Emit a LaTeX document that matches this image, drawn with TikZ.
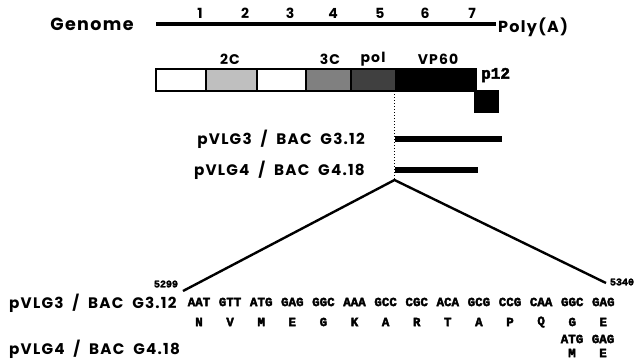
\documentclass[tikz,border=0pt]{standalone}
\usepackage{fontspec}
\setmainfont{Poppins}
\newfontfamily\codfont{Liberation Mono}[BoldFeatures={FakeBold=3}]
\newfontfamily\spfont{Poppins}[LetterSpace=8]
\begin{document}
\begin{tikzpicture}[x=1pt,y=-1pt,
  lab/.style={font=\spfont\fontsize{15.2}{17}\selectfont\bfseries, inner sep=0pt},
  num/.style={font=\spfont\fontsize{14}{16}\selectfont\bfseries, inner sep=0pt},
  cod/.style={font=\codfont\fontsize{12.5}{14}\selectfont\bfseries, inner sep=0pt},
  seg/.style={draw=black, line width=1.4pt},
  bar/.style={line width=6pt},
  tri/.style={line width=2.4pt}]
\useasboundingbox (0,0) rectangle (637,360);
% genome
\node[font=\spfont\fontsize{17.5}{19}\selectfont\bfseries, inner sep=0pt] (gen) at (92,24) {Genome};
\coordinate (gs) at (156,24);
\coordinate (ge) at (496,24);
\draw[line width=4pt] (gs) -- (ge);
\foreach \n/\x in {1/200,2/245,3/290,4/333,5/380,6/425,7/472}
  \node[num] (n\n) at (\x,13) {\n};
\node[num, font=\spfont\fontsize{16}{18}\selectfont\bfseries, anchor=west] (poly) at (498,27) {Poly(A)};
% polyprotein
\draw[seg, fill=white] (156,69) rectangle (206,91);
\draw[seg, fill=black!25] (206,69) rectangle (257,91);
\draw[seg, fill=white] (257,69) rectangle (306,91);
\draw[seg, fill=black!50] (306,69) rectangle (351,91);
\draw[seg, fill=black!75] (351,69) rectangle (396,91);
\draw[seg, fill=black] (396,69) rectangle (476,91);
\fill[black] (474,90) rectangle (499,113);
\node[num] (c2) at (230,59) {2C};
\node[num] (c3) at (330,59) {3C};
\node[num] (pol) at (373,59) {pol};
\node[num] (vp) at (438,59) {VP60};
\node[font=\codfont\fontsize{16}{18}\selectfont\bfseries, inner sep=0pt, anchor=west] (p12) at (481,75) {p12};
% dotted line and clones
\coordinate (d0) at (394.5,91);
\coordinate (apex) at (394.5,180);
\draw[dotted, line width=1pt] (d0) -- (apex);
\coordinate (b1s) at (395,139); \coordinate (b1e) at (502,139);
\coordinate (b2s) at (395,170); \coordinate (b2e) at (478,170);
\draw[bar] (b1s) -- (b1e);
\draw[bar] (b2s) -- (b2e);
\node[lab, anchor=east] (l1) at (365,139) {pVLG3 \ / \ BAC \ G3.12};
\node[lab, anchor=east] (l2) at (365,170) {pVLG4 \ / \ BAC \ G4.18};
% triangle
\coordinate (tl) at (183,291);
\coordinate (tr) at (606,283);
\draw[tri] (tl) -- (apex) -- (tr);
\node[cod, font=\codfont\fontsize{10}{11}\selectfont\bfseries] (s1) at (166,284) {5299};
\node[cod, font=\codfont\fontsize{10}{11}\selectfont\bfseries] (s2) at (622,282) {5340};
% sequence rows
\node[lab, anchor=west] (r1) at (9,303) {pVLG3 \ / \ BAC \ G3.12};
\node[lab, anchor=west] (r2) at (9,349) {pVLG4 \ / \ BAC \ G4.18};
\foreach \c/\a [count=\i from 0] in {AAT/N,GTT/V,ATG/M,GAG/E,GGC/G,AAA/K,GCC/A,CGC/R,ACA/T,GCG/A,CCG/P,CAA/Q,GGC/G,GAG/E} {
  \node[cod] (cd\i) at (199+31.1*\i,302) {\c};
  \node[cod] (aa\i) at (199+31.1*\i,322) {\a};
}
\node[cod] (x1) at (572,339) {ATG};
\node[cod] (x2) at (603,339) {GAG};
\node[cod] (y1) at (572,353) {M};
\node[cod] (y2) at (603,353) {E};
\end{tikzpicture}
\end{document}
